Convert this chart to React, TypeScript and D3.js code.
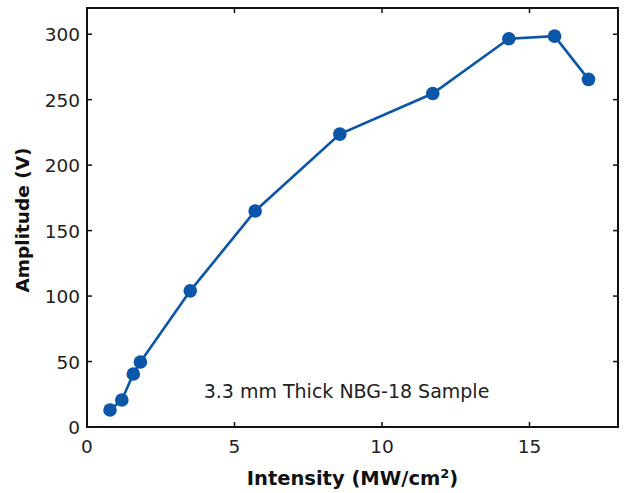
import React from "react";
import * as d3 from "d3";

const intensity = [0.78, 1.18, 1.57, 1.81, 3.5, 5.7, 8.57, 11.72, 14.3, 15.85, 17.0];
const amplitude = [13, 20.6, 40.5, 49.6, 104, 165, 223.7, 254.7, 296.5, 298.5, 265.5];
const xTicks = [0, 5, 10, 15];
const yTicks = [0, 50, 100, 150, 200, 250, 300];
const annotation = "3.3 mm Thick NBG-18 Sample";

const W = 627, H = 493;
const M = { left: 87, right: 9, top: 8, bottom: 66 };
const COLOR = "#0b56a8";
const FONT = "DejaVu Sans, Verdana, sans-serif";

export default function App() {
  const x = d3.scaleLinear().domain([0, 18]).range([M.left, W - M.right]);
  const y = d3.scaleLinear().domain([0, 320]).range([H - M.bottom, M.top]);
  const pts = intensity.map((v, i) => [v, amplitude[i]] as [number, number]);
  const line = d3.line<[number, number]>().x(d => x(d[0])).y(d => y(d[1]));
  const x0 = x(0), x1 = x(18), y0 = y(0), y1 = y(320);
  const tl = 5;
  return (
    <svg width={W} height={H} style={{ position: "absolute", left: 0, top: 0, background: "#fff" }} fontFamily={FONT}>
      <rect x={0} y={0} width={W} height={H} fill="#fff" />
      {xTicks.map(t => (
        <g key={"x" + t}>
          <line x1={x(t)} x2={x(t)} y1={y0} y2={y0 - tl} stroke="#111" strokeWidth={1.5} />
          <line x1={x(t)} x2={x(t)} y1={y1} y2={y1 + tl} stroke="#111" strokeWidth={1.5} />
          <text x={x(t)} y={y0 + 26} textAnchor="middle" fontSize={18.5} fill="#222">{t}</text>
        </g>
      ))}
      {yTicks.map(t => (
        <g key={"y" + t}>
          <line x1={x0} x2={x0 + tl} y1={y(t)} y2={y(t)} stroke="#111" strokeWidth={1.5} />
          <line x1={x1} x2={x1 - tl} y1={y(t)} y2={y(t)} stroke="#111" strokeWidth={1.5} />
          <text x={x0 - 7} y={y(t) + 7} textAnchor="end" fontSize={18.5} fill="#222">{t}</text>
        </g>
      ))}
      <rect x={x0} y={y1} width={x1 - x0} height={y0 - y1} fill="none" stroke="#111" strokeWidth={2} />
      <path d={line(pts) || ""} fill="none" stroke={COLOR} strokeWidth={2.6} />
      {pts.map((p, i) => (
        <circle key={i} cx={x(p[0])} cy={y(p[1])} r={6.8} fill={COLOR} />
      ))}
      <text x={346.5} y={398} textAnchor="middle" fontSize={19} fill="#222">{annotation}</text>
      <text x={352.5} y={485} textAnchor="middle" fontSize={19.5} fontWeight="bold" fill="#111">
        Intensity (MW/cm<tspan dy={-7} fontSize={13}>2</tspan><tspan dy={7}>)</tspan>
      </text>
      <text transform={`translate(29,${220}) rotate(-90)`} textAnchor="middle" fontSize={18.5} fontWeight="bold" fill="#111">
        Amplitude (V)
      </text>
    </svg>
  );
}
